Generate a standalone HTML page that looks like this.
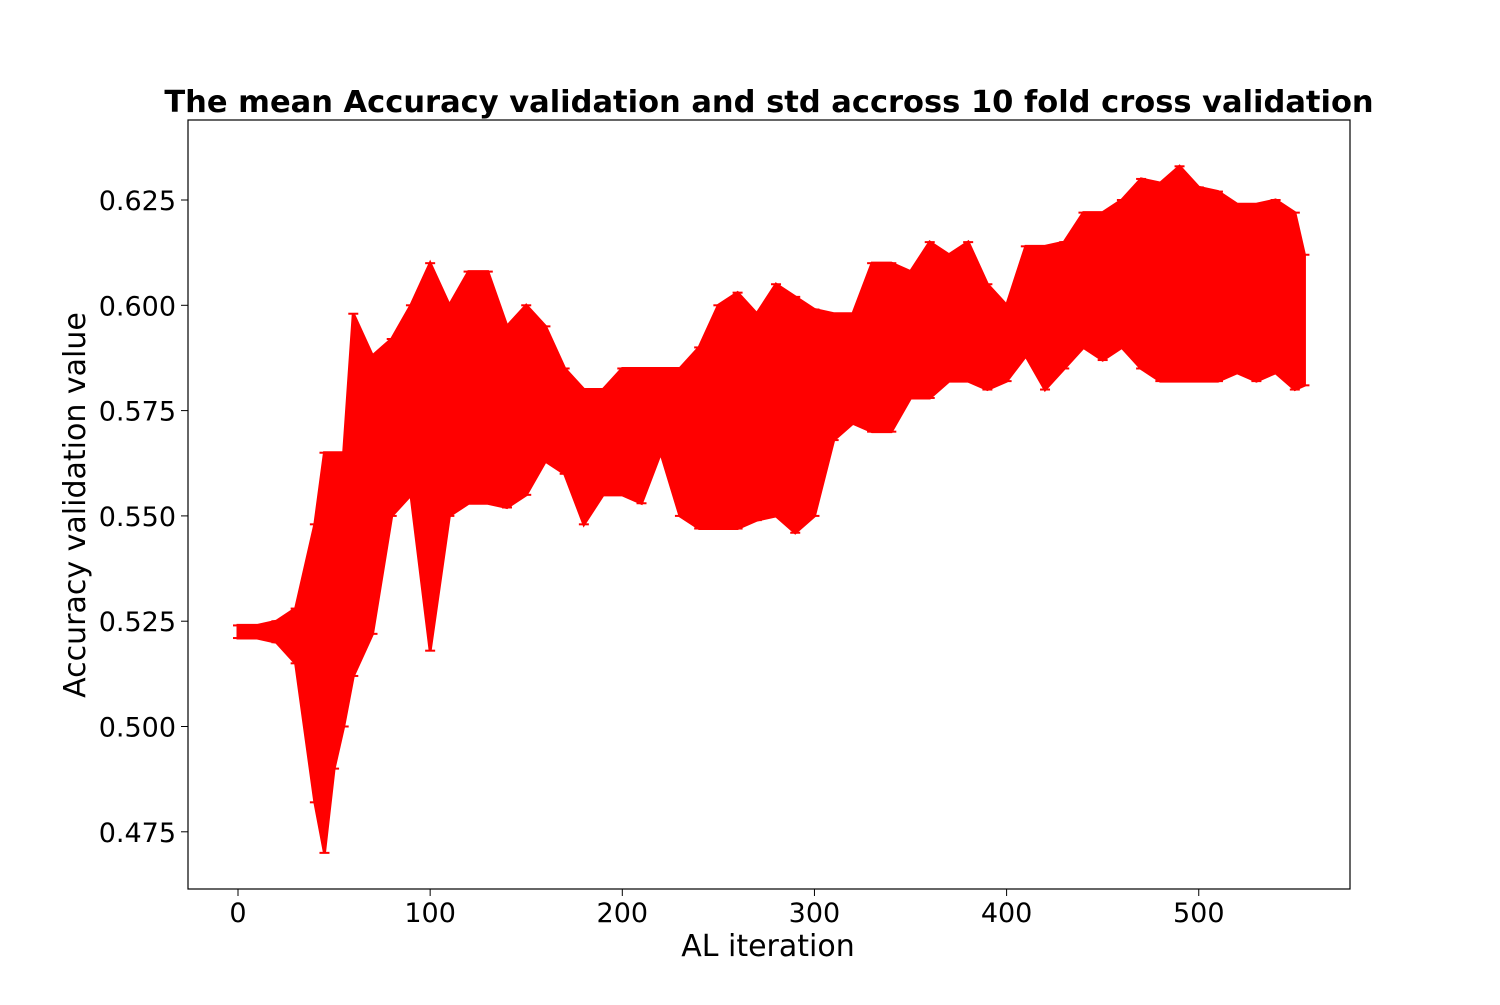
<!DOCTYPE html>
<html><head><meta charset="utf-8"><style>
body{margin:0;background:#fff;}
text{font-family:"DejaVu Sans","Liberation Sans",sans-serif;}
</style></head><body>
<svg id="chart" width="1500" height="1000" xmlns="http://www.w3.org/2000/svg">
<rect width="1500" height="1000" fill="#fff"/>
<text x="769" y="112" text-anchor="middle" font-size="30.5" font-weight="bold">The mean Accuracy validation and std accross 10 fold cross validation</text>
<g id="series"></g>
<rect x="188" y="120" width="1162" height="769" fill="none" stroke="#000" stroke-width="1.2"/>
<g id="xt"></g>
<g id="yt"></g>
<text x="768" y="956" text-anchor="middle" font-size="30">AL iteration</text>
<text transform="translate(85,505) rotate(-90)" text-anchor="middle" font-size="30">Accuracy validation value</text>
</svg>
<script>
const iters=[0,10,20,30,40,45,50,55,60,70,80,90,100,110,120,130,140,150,160,170,180,190,200,210,220,230,240,250,260,270,280,290,300,310,320,330,340,350,360,370,380,390,400,410,420,430,440,450,460,470,480,490,500,510,520,530,540,550,555];
const upper=[.524,.524,.525,.528,.548,.565,.565,.565,.598,.588,.592,.600,.610,.600,.608,.608,.595,.600,.595,.585,.580,.580,.585,.585,.585,.585,.590,.600,.603,.598,.605,.602,.599,.598,.598,.610,.610,.608,.615,.612,.615,.605,.600,.614,.614,.615,.622,.622,.625,.630,.629,.633,.628,.627,.624,.624,.625,.622,.612];
const lower=[.521,.521,.520,.515,.482,.470,.490,.500,.512,.522,.550,.555,.518,.550,.553,.553,.552,.555,.563,.560,.548,.555,.555,.553,.565,.550,.547,.547,.547,.549,.550,.546,.550,.568,.572,.570,.570,.578,.578,.582,.582,.580,.582,.588,.580,.585,.590,.587,.590,.585,.582,.582,.582,.582,.584,.582,.584,.580,.581];
const xTicks=[0,100,200,300,400,500];
const yTicks=[0.475,0.500,0.525,0.550,0.575,0.600,0.625];
const X=v=>238+v*1.9215;
const Y=v=>200+(0.625-v)*4212;
const NS="http://www.w3.org/2000/svg";
const g=document.getElementById('series');
let pts=[];
for(let i=0;i<iters.length;i++) pts.push(X(iters[i])+','+Y(upper[i]));
for(let i=iters.length-1;i>=0;i--) pts.push(X(iters[i])+','+Y(lower[i]));
const poly=document.createElementNS(NS,'polygon');
poly.setAttribute('points',pts.join(' '));
poly.setAttribute('fill','#ff0000');
poly.setAttribute('stroke','#ff0000');
poly.setAttribute('stroke-width','3');


g.appendChild(poly);
for(let i=0;i<iters.length;i++){
  [upper[i],lower[i]].forEach(v=>{
    const c=document.createElementNS(NS,'line');
    c.setAttribute('x1',X(iters[i])-5);c.setAttribute('x2',X(iters[i])+5);
    c.setAttribute('y1',Y(v));c.setAttribute('y2',Y(v));
    c.setAttribute('stroke','#ff0000');c.setAttribute('stroke-width','2');
    
    
    g.appendChild(c);
  });
}
const xt=document.getElementById('xt');
xTicks.forEach(t=>{
  const l=document.createElementNS(NS,'line');
  l.setAttribute('x1',X(t));l.setAttribute('x2',X(t));l.setAttribute('y1',889);l.setAttribute('y2',896);l.setAttribute('stroke','#000');
  
  
  xt.appendChild(l);
  const s=document.createElementNS(NS,'text');
  s.setAttribute('x',X(t));s.setAttribute('y',922);s.setAttribute('text-anchor','middle');s.setAttribute('font-size','27');
  s.textContent=t;
  
  
  xt.appendChild(s);
});
const yt=document.getElementById('yt');
yTicks.forEach(t=>{
  const l=document.createElementNS(NS,'line');
  l.setAttribute('x1',181);l.setAttribute('x2',188);l.setAttribute('y1',Y(t));l.setAttribute('y2',Y(t));l.setAttribute('stroke','#000');
  
  
  yt.appendChild(l);
  const s=document.createElementNS(NS,'text');
  s.setAttribute('x',176);s.setAttribute('y',Y(t)+10);s.setAttribute('text-anchor','end');s.setAttribute('font-size','27');
  s.textContent=t.toFixed(3);
  
  
  yt.appendChild(s);
});
</script>
</body></html>
